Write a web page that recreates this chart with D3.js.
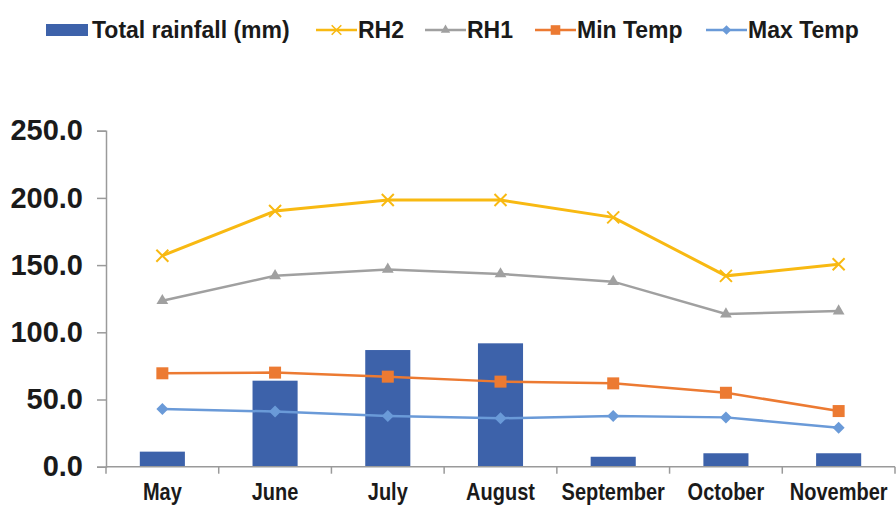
<!DOCTYPE html>
<html>
<head>
<meta charset="utf-8">
<script src="https://cdn.jsdelivr.net/npm/d3@7"></script>
<style>
  body { margin: 0; background: #fff; }
  text { font-family: "Liberation Sans", Arial, sans-serif; font-weight: bold; fill: #1a1a1a; }
</style>
</head>
<body>
<svg id="chart" width="896" height="506"></svg>
<script>
// data
var months = ["May", "June", "July", "August", "September", "October", "November"];
var rainfall = [11.2, 64.0, 86.8, 91.8, 7.4, 10.0, 10.0];
var rh2 = [157.0, 190.2, 198.4, 198.4, 185.5, 142.0, 150.6];
var rh1 = [123.5, 142.0, 146.8, 143.4, 137.7, 113.6, 115.8];
var minTemp = [69.5, 70.0, 67.0, 63.3, 62.0, 55.0, 41.4];
var maxTemp = [43.0, 41.0, 37.7, 36.0, 37.7, 36.7, 29.0];
var yTicks = [0, 50, 100, 150, 200, 250];

var svg = d3.select("#chart");

var x = d3.scaleBand().domain(months).range([106, 895]);
var y = d3.scaleLinear().domain([0, 250]).range([466.7, 130.7]);

var axisColor = "#9a9a9a";

// y axis
var yAxis = svg.append("g")
    .attr("transform", "translate(106,0)")
    .call(d3.axisLeft(y).tickValues(yTicks).tickFormat(d3.format(".1f")).tickSize(9).tickPadding(14));
yAxis.select(".domain").attr("stroke", axisColor).attr("stroke-width", 1.5);
yAxis.selectAll(".tick line").attr("stroke", axisColor).attr("stroke-width", 1.5);
yAxis.selectAll(".tick text")
    .style("font-size", "29px")
    .attr("fill", "#1a1a1a");

// bars
svg.selectAll("rect.bar")
    .data(rainfall)
    .enter()
    .append("rect")
        .attr("class", "bar")
        .attr("x", function(d, i){ return x(months[i]) + x.bandwidth() * 0.3 })
        .attr("width", x.bandwidth() * 0.4)
        .attr("y", function(d){ return y(d) })
        .attr("height", function(d){ return y(0) - y(d) })
        .attr("fill", "#3d62aa")

// x axis line with ticks on the category boundaries
svg.append("line")
    .attr("x1", x.range()[0]).attr("x2", x.range()[1])
    .attr("y1", y(0)).attr("y2", y(0))
    .attr("stroke", axisColor).attr("stroke-width", 1.5);

var bounds = months.map(function(m){ return x(m) }).concat([x.range()[1]]);
svg.selectAll("line.xtick")
    .data(bounds)
    .enter()
    .append("line")
        .attr("class", "xtick")
        .attr("x1", function(d){ return d }).attr("x2", function(d){ return d })
        .attr("y1", y(0)).attr("y2", y(0) + 7)
        .attr("stroke", axisColor).attr("stroke-width", 1.5)

svg.selectAll("text.xlab")
    .data(months)
    .enter()
    .append("text")
        .attr("class", "xlab")
        .attr("text-anchor", "middle")
        .attr("transform", function(d){ return "translate(" + (x(d) + x.bandwidth() / 2) + ",500) scale(1,1.2)" })
        .style("font-size", "20px")
        .text(function(d){ return d })

// line series
var series = [
  { name: "RH2", values: rh2, color: "#f8b912", marker: "x", width: 3 },
  { name: "RH1", values: rh1, color: "#a0a0a0", marker: "tri", width: 2.5 },
  { name: "Min Temp", values: minTemp, color: "#ec7a32", marker: "sq", width: 2.5 },
  { name: "Max Temp", values: maxTemp, color: "#6a9ad8", marker: "dia", width: 2.5 }
];

var cx = function(i){ return x(months[i]) + x.bandwidth() / 2 };

var line = d3.line()
    .x(function(d, i){ return cx(i) })
    .y(function(d){ return y(d) });

function drawMarker(g, type, color) {
  if (type === "x") {
    g.append("path").attr("d", "M-6,-6L6,6M-6,6L6,-6")
      .attr("stroke", color).attr("stroke-width", 2).attr("fill", "none");
  } else if (type === "tri") {
    g.append("path").attr("d", d3.symbol(d3.symbolTriangle, 60)())
      .attr("fill", color);
  } else if (type === "sq") {
    g.append("rect").attr("x", -6).attr("y", -6).attr("width", 12).attr("height", 12)
      .attr("fill", color);
  } else {
    g.append("path").attr("d", "M0,-6L6,0L0,6L-6,0Z").attr("fill", color);
  }
}

series.forEach(function(s) {
  svg.append("path")
    .datum(s.values)
    .attr("d", line)
    .attr("fill", "none")
    .attr("stroke", s.color)
    .attr("stroke-width", s.width);
  s.values.forEach(function(v, i) {
    var g = svg.append("g").attr("transform", "translate(" + cx(i) + "," + y(v) + ")");
    drawMarker(g, s.marker, s.color);
  });
});

// legend
var legend = svg.append("g");
legend.append("rect")
    .attr("x", 46).attr("y", 24).attr("width", 42).attr("height", 12)
    .attr("fill", "#3d62aa");
legend.append("text")
    .attr("x", 92).attr("y", 38)
    .style("font-size", "23px")
    .text("Total rainfall (mm)");

var legendX = [316, 425, 535, 706];
series.forEach(function(s, i) {
  var lx = legendX[i];
  legend.append("line")
    .attr("x1", lx).attr("x2", lx + 41)
    .attr("y1", 30).attr("y2", 30)
    .attr("stroke", s.color).attr("stroke-width", 2.5);
  var g = legend.append("g").attr("transform", "translate(" + (lx + 20.5) + ",30) scale(0.8)");
  drawMarker(g, s.marker, s.color);
  legend.append("text")
    .attr("x", lx + 42).attr("y", 38)
    .style("font-size", "23px")
    .text(s.name);
});
</script>
</body>
</html>
